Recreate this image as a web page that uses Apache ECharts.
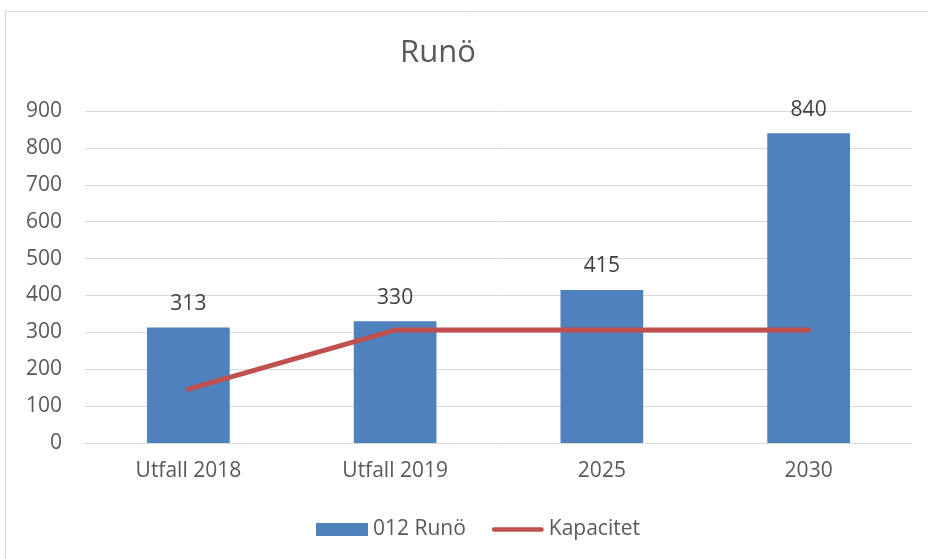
<!DOCTYPE html>
<html><head><meta charset="utf-8">
<script src="https://cdn.jsdelivr.net/npm/echarts@6/dist/echarts.min.js"></script>
<style>html,body{margin:0;padding:0;background:#fff}#c{width:928px;height:559px}</style>
</head><body><div id="c"></div>
<script>
const categories = ['Utfall 2018', 'Utfall 2019', '2025', '2030'];
const runoValues = [313, 330, 415, 840];
const kapacitetValues = [146, 306, 306, 306];
const yTicks = [0, 100, 200, 300, 400, 500, 600, 700, 800, 900];

const chart = echarts.init(document.getElementById('c'));
const font = 'Open Sans';
chart.setOption({
  animation: false,
  graphic: [{type:'rect', shape:{x:5.5, y:11.5, width:940, height:560}, style:{fill:'none', stroke:'#d9d9d9', lineWidth:1}}],
  title: {text: 'Runö', left: 433, top: 33, textAlign: 'center',
    textStyle: {fontFamily: font, fontSize: 31, fontWeight: 'normal', color: '#595959'}},
  legend: {bottom: 14, left: 311, itemGap: 26, itemWidth: 52, itemHeight: 13,
    textStyle: {fontFamily: font, fontSize: 21, color: '#595959'},
    data: [{name:'012 Runö', icon:'rect'},
           {name:'Kapacitet', icon:'path://M2.5,0 H53.5 A2.5,2.5 0 0 1 53.5,5 H2.5 A2.5,2.5 0 0 1 2.5,0 Z'}]},
  grid: {left: 85, right: 16, top: 111, bottom: 116},
  xAxis: {type: 'category', data: categories,
    axisLine: {lineStyle: {color: '#d9d9d9'}}, axisTick: {show: false},
    axisLabel: {fontFamily: font, fontSize: 21, color: '#595959', margin: 18}},
  yAxis: {type: 'value', min: yTicks[0], max: yTicks[yTicks.length-1], interval: 100,
    axisLine: {show: false}, axisTick: {show: false},
    splitLine: {lineStyle: {color: '#d9d9d9', width: 1}},
    axisLabel: {fontFamily: font, fontSize: 21, color: '#595959', margin: 23}},
  series: [
    {name: '012 Runö', type: 'bar', data: runoValues, barWidth: '40%',
      itemStyle: {color: '#4f81bd'},
      label: {show: true, position: 'top', distance: 13, fontFamily: font, fontSize: 21, color: '#404040'}},
    {name: 'Kapacitet', type: 'line', data: kapacitetValues, symbol: 'none',
      lineStyle: {color: '#c0504d', width: 5, cap: 'round'}, itemStyle: {color: '#c0504d'}}
  ]
});
</script></body></html>
